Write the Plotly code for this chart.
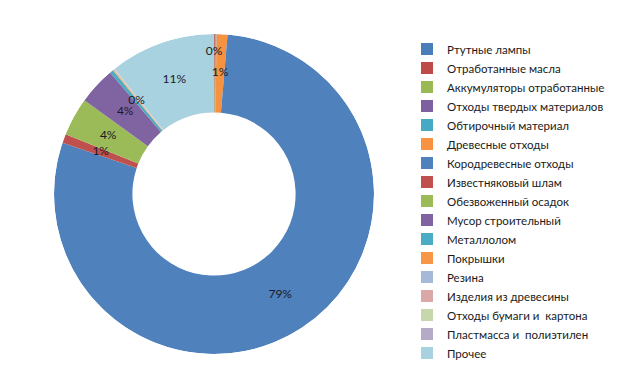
import plotly.graph_objects as go

categories = [
    "Ртутные лампы",
    "Отработанные масла",
    "Аккумуляторы отработанные",
    "Отходы твердых материалов",
    "Обтирочный материал",
    "Древесные отходы",
    "Кородревесные отходы",
    "Известняковый шлам",
    "Обезвоженный осадок",
    "Мусор строительный",
    "Металлолом",
    "Покрышки",
    "Резина",
    "Изделия из древесины",
    "Отходы бумаги и  картона",
    "Пластмасса и  полиэтилен",
    "Прочее",
]
values = [0.02, 0.08, 0.08, 0.04, 0.04, 1.1, 79.2, 0.9, 3.9, 3.8,
          0.35, 0.08, 0.04, 0.04, 0.06, 0.04, 10.7]
show_label = [True, False, False, False, False, True, True, True, True, True,
              True, False, False, False, False, False, True]
colors = ["#4A7EBB", "#BE4B48", "#98B954", "#7D60A0", "#46AAC5", "#F69240",
          "#4F81BD", "#C0504D", "#9BBB59", "#8064A2", "#4BACC6", "#F79646",
          "#A7B9D8", "#D9A8A7", "#C6D7AB", "#B5ABC7", "#A9D2E0"]

HOLE = 0.51
dom_x = [(53 - 7) / 625, (373 - 7) / 625]
dom_y = [1 - (352 - 6) / 387, 1 - (32 - 6) / 387]

total = sum(values)
fig = go.Figure()

# donut ring as polar bars, angles derived from the data
lab_theta, lab_text = [], []
cum = 0.0
for name, v, c, s in zip(categories, values, colors, show_label):
    width = v / total * 360
    mid = (cum + v / 2) / total * 360
    cum += v
    fig.add_trace(go.Barpolar(
        name=name,
        theta=[mid], width=[width],
        r=[1 - HOLE], base=[HOLE],
        marker=dict(color=c, line=dict(width=0)),
        hovertemplate=f"{name}: {v / total * 100:.1f}%<extra></extra>",
    ))
    if s:
        lab_theta.append(mid)
        lab_text.append(f"{round(v / total * 100):.0f}%")

base_r = (1 + HOLE) / 2
lab_r = [base_r] * len(lab_theta)
# push a label outward when it collides with the next one
for i in range(len(lab_theta) - 1):
    if abs(lab_theta[i + 1] - lab_theta[i]) < 5:
        lab_r[i] = base_r + 0.13

fig.add_trace(go.Scatterpolar(
    r=lab_r, theta=lab_theta, text=lab_text, mode="text",
    textfont=dict(family="Lato", size=12, color="#1a1a2a"),
    showlegend=False, hoverinfo="skip",
))
fig.update_layout(
    width=625, height=387,
    margin=dict(l=0, r=0, t=0, b=0),
    paper_bgcolor="white",
    plot_bgcolor="white",
    polar=dict(
        domain=dict(x=dom_x, y=dom_y),
        bgcolor="rgba(0,0,0,0)",
        hole=0,
        bargap=0,
        angularaxis=dict(direction="clockwise", rotation=90, visible=False,
                         showgrid=False),
        radialaxis=dict(range=[0, 1], visible=False, showgrid=False),
    ),
    legend=dict(
        x=399 / 625, xanchor="left",
        y=1 - 26.5 / 387, yanchor="top",
        font=dict(family="Lato", size=11.5, color="#1a1a1a"),
        traceorder="normal",
    ),
    showlegend=True,
)
fig.write_html("out.html")
